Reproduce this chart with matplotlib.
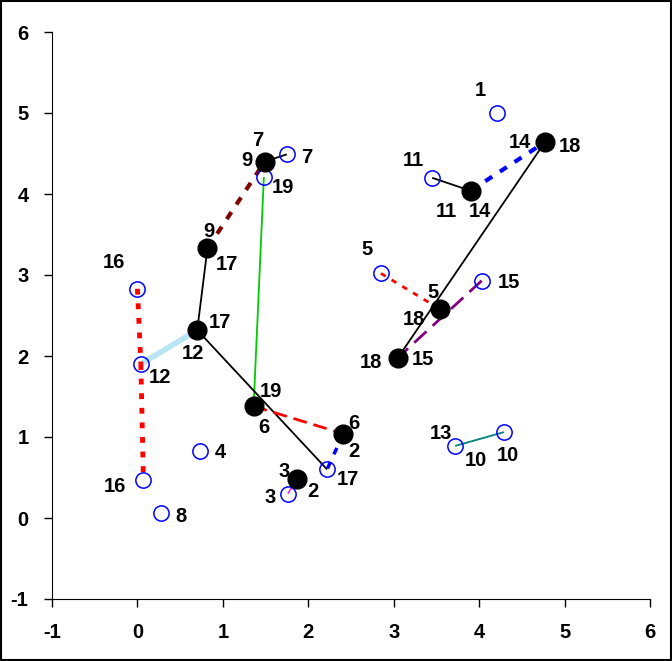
import matplotlib
matplotlib.use("Agg")
from matplotlib import pyplot as plt
from matplotlib.patches import Rectangle

plt.rcParams["font.family"] = ["Liberation Sans", "DejaVu Sans"]
plt.rcParams["font.weight"] = "bold"
plt.rcParams["axes.unicode_minus"] = False

# open (hollow) points
open_x = [4.21, 1.75, 1.48, 3.45, 0.00, 2.85, 4.03, 0.04, 0.73, 0.07, 0.28, 2.22, 1.76, 3.72, 4.29]
open_y = [5.00, 4.49, 4.21, 4.20, 2.83, 3.02, 2.93, 1.90, 0.83, 0.47, 0.06, 0.60, 0.30, 0.89, 1.06]
open_names = ["1", "7", "19", "11", "16a", "5", "15", "12", "4", "16b", "8", "17", "3", "13", "10"]

# filled points
fill_x = [1.49, 0.82, 0.70, 1.36, 2.41, 1.87, 4.77, 3.90, 3.54, 3.05]
fill_y = [4.40, 3.33, 2.32, 1.38, 1.04, 0.48, 4.64, 4.04, 2.58, 1.98]
fill_names = ["F9_7", "F9_17", "F12_17", "F6_19", "F6_2", "F3_2", "F14_18", "F11_14", "F5_18", "F18_15"]

# connections between points
links = [
    ("7", "F9_7"), ("F9_17", "F9_7"), ("F9_17", "F12_17"), ("19", "F6_19"),
    ("12", "F12_17"), ("16a", "12"), ("12", "16b"), ("F12_17", "17"),
    ("F6_19", "F6_2"), ("F6_2", "17"), ("3", "F3_2"),
    ("F11_14", "F14_18"), ("11", "F11_14"), ("F14_18", "F18_15"),
    ("5", "F5_18"), ("15", "F18_15"), ("13", "10"),
]
link_styles = [
    dict(color="black", lw=1.3),
    dict(color="#800000", lw=3, dashes=(2, 2.2)),
    dict(color="black", lw=1.3),
    dict(color="#00cc00", lw=1.3),
    dict(color="#b8e4f4", lw=4),
    dict(color="red", lw=3.5, dashes=(1.2, 1.8)),
    dict(color="red", lw=3.5, dashes=(1.2, 1.8)),
    dict(color="black", lw=1.3),
    dict(color="red", lw=2, dashes=(5, 2.5)),
    dict(color="blue", lw=2.5, dashes=(2, 2.5)),
    dict(color="#ff00ff", lw=1),
    dict(color="blue", lw=3, dashes=(2, 2.2)),
    dict(color="black", lw=1.3),
    dict(color="black", lw=1.3),
    dict(color="red", lw=2, dashes=(2, 2.5)),
    dict(color="#800080", lw=2, dashes=(6, 3)),
    dict(color="#008080", lw=1.3),
]

# point labels: (point, text, dx px, dy px)
labels = [
    ("1", "1", -17, 23), ("7", "7", 20, -3), ("F9_7", "7", -7, 21), ("F9_7", "9", -18, 1),
    ("19", "19", 19, -11), ("11", "11", -19, 17), ("F11_14", "11", -24, -21), ("F11_14", "14", 9, -21),
    ("F14_18", "14", -25, 0), ("F14_18", "18", 25, -4), ("F9_17", "9", 1, 17), ("F9_17", "17", 19, -16),
    ("16a", "16", -23, 26), ("F12_17", "17", 23, 8), ("F12_17", "12", -4, -23), ("12", "12", 19, -13),
    ("5", "5", -14, 24), ("F5_18", "5", -7, 17), ("F5_18", "18", -26, -10), ("15", "15", 27, -2),
    ("F18_15", "18", -27, -5), ("F18_15", "15", 25, -2), ("F6_19", "19", 17, 15), ("F6_19", "6", 10, -21),
    ("F6_2", "6", 11, 10), ("F6_2", "2", 11, -18), ("4", "4", 21, -2), ("16b", "16", -28, -7),
    ("8", "8", 20, -3), ("F3_2", "3", -13, 8), ("F3_2", "2", 16, -12), ("3", "3", -18, -4),
    ("17", "17", 21, -10), ("13", "13", -14, 12), ("13", "10", 21, -15), ("10", "10", 4, -23),
]

pos = {}
for n, x, y in zip(open_names, open_x, open_y):
    pos[n] = (x, y)
for n, x, y in zip(fill_names, fill_x, fill_y):
    pos[n] = (x, y)

fig = plt.figure(figsize=(6.72, 6.61), dpi=100)
ax = fig.add_axes([52 / 672, 1 - 599 / 661, 598 / 672, 567 / 661])

for (a, b), st in zip(links, link_styles):
    st = dict(st)
    dashes = st.pop("dashes", None)
    line, = ax.plot([pos[a][0], pos[b][0]], [pos[a][1], pos[b][1]], solid_capstyle="butt", zorder=2, **st)
    if dashes is not None:
        line.set_dashes(dashes)
        line.set_dash_capstyle("butt")

ax.plot(open_x, open_y, "o", ms=11, mfc="none", mec="blue", mew=1.1, zorder=3)
ax.plot(fill_x, fill_y, "o", ms=13.5, mfc="black", mec="black", zorder=4)

for n, t, dx, dy in labels:
    ax.annotate(t, pos[n], xytext=(dx * 0.72, dy * 0.72), textcoords="offset points",
                ha="center", va="center", fontsize=14.5, fontweight="bold")

ax.set_xlim(-1, 6)
ax.set_ylim(-1, 6)
ax.set_xticks(range(-1, 7))
ax.set_yticks(range(-1, 7))
ax.spines["top"].set_visible(False)
ax.spines["right"].set_visible(False)
ax.tick_params(direction="out", length=6, width=1, labelsize=14.5, pad=11)
for lab in ax.get_xticklabels() + ax.get_yticklabels():
    lab.set_fontweight("bold")

fig.patches.append(Rectangle((0.002, 0.002), 0.996, 0.996, transform=fig.transFigure,
                             fill=False, edgecolor="black", lw=1.5))

plt.savefig("out.png", dpi=100)
